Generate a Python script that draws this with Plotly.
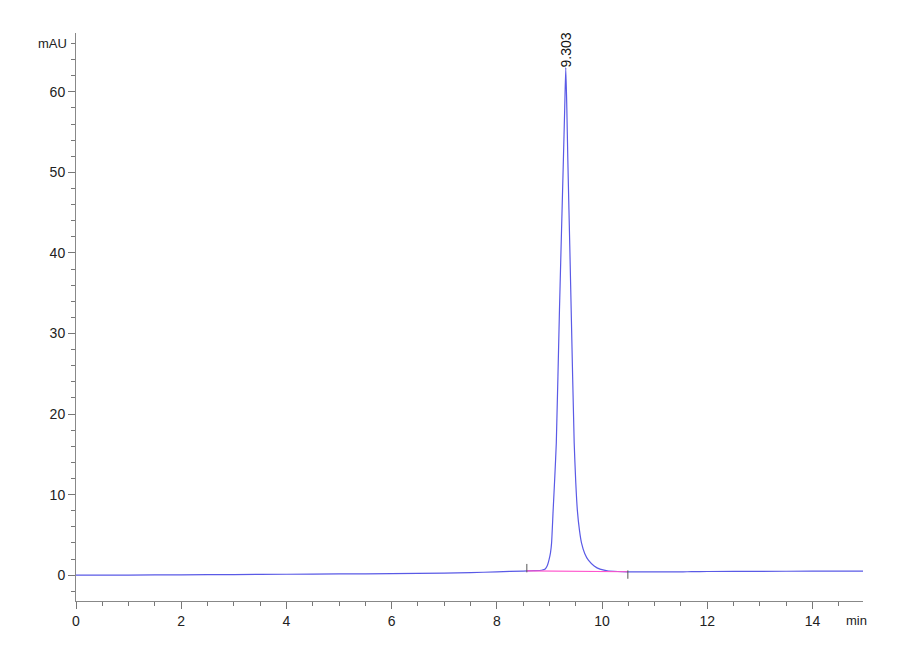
import plotly.graph_objects as go

# chromatogram trace (min, mAU)
time_min = [0.0, 1.0, 2.0, 3.0, 4.0, 5.0, 6.0, 7.0, 7.5, 8.0, 8.5, 8.7, 8.85,
            8.92, 8.96, 8.99, 9.02, 9.04, 9.07, 9.1, 9.13, 9.19, 9.215, 9.265,
            9.29, 9.31, 9.33, 9.349, 9.392, 9.413, 9.47, 9.5, 9.53, 9.57, 9.61,
            9.67, 9.74, 9.85, 9.96, 10.1, 10.3, 10.5, 11.0, 11.5, 11.7, 12.0,
            13.0, 14.0, 15.0]
signal_mau = [0.0, 0.02, 0.05, 0.08, 0.12, 0.16, 0.2, 0.26, 0.32, 0.42, 0.52,
              0.56, 0.62, 0.78, 1.2, 1.86, 2.8, 3.98, 8.08, 12.0, 16.4, 32.9,
              39.2, 51.6, 58.0, 63.0, 58.0, 51.6, 39.2, 32.9, 16.4, 11.5, 8.08,
              5.6, 3.98, 2.7, 1.86, 1.15, 0.75, 0.55, 0.46, 0.42, 0.41, 0.41,
              0.45, 0.46, 0.48, 0.5, 0.52]

# integration baseline and peak label
base_x = [8.57, 10.49]
base_y = [0.53, 0.43]
peak_rt = 9.303
peak_height = 63.0

y_ticks = [0, 10, 20, 30, 40, 50, 60]
x_ticks = [0, 2, 4, 6, 8, 10, 12, 14]

font_name = "Liberation Sans, Arial, sans-serif"

fig = go.Figure()
fig.add_trace(go.Scatter(x=time_min, y=signal_mau, mode="lines",
                         line=dict(color="#5a5ae6", width=1.2, shape="spline",
                                   smoothing=0.5),
                         showlegend=False))
fig.add_trace(go.Scatter(x=base_x, y=base_y, mode="lines",
                         line=dict(color="#ff55cc", width=1.2),
                         showlegend=False))
# start / end markers of the integrated peak
fig.add_trace(go.Scatter(x=[base_x[0]], y=[base_y[0] + 0.35], mode="markers",
                         marker=dict(symbol="line-ns-open", size=6,
                                     color="#555555",
                                     line=dict(color="#555555", width=1)),
                         showlegend=False))
fig.add_trace(go.Scatter(x=[base_x[1]], y=[base_y[1] - 0.35], mode="markers",
                         marker=dict(symbol="line-ns-open", size=6,
                                     color="#555555",
                                     line=dict(color="#555555", width=1)),
                         showlegend=False))

fig.add_annotation(x=peak_rt, y=peak_height, text=f"{peak_rt:.3f}",
                   textangle=-90, showarrow=False, xanchor="center",
                   yanchor="bottom", xshift=1, yshift=-2,
                   font=dict(family=font_name, size=14, color="#111111"))
fig.add_annotation(x=0, xref="paper", y=66, yref="y", text="mAU",
                   showarrow=False, xanchor="right", yanchor="middle",
                   xshift=-7, font=dict(family=font_name, size=13, color="#222222"))
fig.add_annotation(x=1, xref="paper", y=0, yref="paper", text="min",
                   showarrow=False, xanchor="right", yanchor="top",
                   yshift=-10, xshift=6,
                   font=dict(family=font_name, size=13, color="#222222"))

fig.update_layout(
    width=900, height=660,
    margin=dict(l=68, r=45, t=25, b=67),
    paper_bgcolor="white", plot_bgcolor="white",
    font=dict(family=font_name, size=14, color="#222222"),
    xaxis=dict(range=[0, 14.96], tickvals=x_ticks, ticks="outside",
               ticklen=7, tickcolor="#777777", showline=True,
               linecolor="#888888", linewidth=1, showgrid=False,
               zeroline=False,
               minor=dict(dtick=0.5, ticks="outside", ticklen=4,
                          tickcolor="#777777", showgrid=False)),
    yaxis=dict(range=[-3.2, 67.3], tickvals=y_ticks, ticks="outside",
               ticklen=7, tickcolor="#777777", showline=True,
               linecolor="#888888", linewidth=1, showgrid=False,
               zeroline=False,
               minor=dict(dtick=2, ticks="outside", ticklen=4,
                          tickcolor="#777777", showgrid=False)),
)

fig.write_html("out.html")
